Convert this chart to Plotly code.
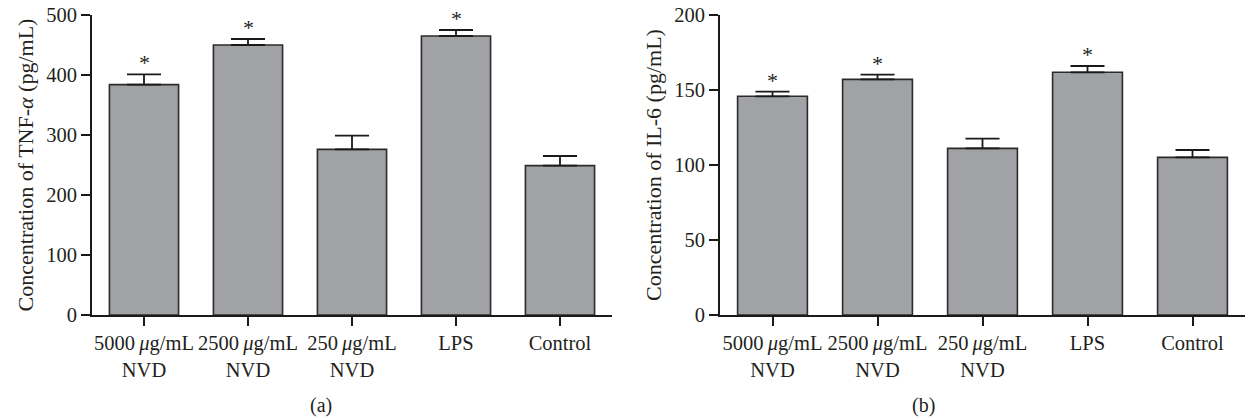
import plotly.graph_objects as go

categories = ["5000\u2009<i>μ</i>g/mL<br>NVD", "2500\u2009<i>μ</i>g/mL<br>NVD", "250\u2009<i>μ</i>g/mL<br>NVD", "LPS", "Control"]
tnf_mean = [384, 450, 276, 465, 249]
tnf_err = [17, 10, 23, 10, 16]
il6_mean = [145.8, 157.1, 111.1, 161.8, 105.1]
il6_err = [3.1, 3.1, 6.5, 4.2, 4.9]
significant = [True, True, False, True, False]

FONT = "Liberation Serif"
TXT = "#231f20"
BAR = "#a1a2a6"
W, H = 1245, 418

fig = go.Figure()
xs = list(range(len(categories)))

for mean, err, xa, ya in [(tnf_mean, tnf_err, "x", "y"), (il6_mean, il6_err, "x2", "y2")]:
    fig.add_trace(go.Bar(
        x=xs, y=mean, xaxis=xa, yaxis=ya, width=0.665,
        marker=dict(color=BAR, line=dict(color="#2b2b2b", width=1.6)),
        error_y=dict(type="data", symmetric=False, array=err, arrayminus=[0] * len(err),
                     color="#1a1a1a", thickness=1.8, width=17),
        showlegend=False, hoverinfo="skip",
    ))
    for i, (m, e, s) in enumerate(zip(mean, err, significant)):
        if s:
            fig.add_annotation(x=i, y=m + e, xref=xa, yref=ya, text="*", showarrow=False,
                               yanchor="bottom", yshift=-3,
                               font=dict(family=FONT, size=22, color=TXT))

common_x = dict(range=[-0.5, 4.5], tickvals=xs, ticktext=categories, showline=True,
                linecolor="#1a1a1a", linewidth=1.6, ticks="outside", ticklen=9, tickwidth=1.6,
                tickcolor="#1a1a1a", showgrid=False, zeroline=False, automargin=False,
                tickfont=dict(family=FONT, size=20.5, color=TXT))
common_y = dict(showline=True, linecolor="#1a1a1a", linewidth=1.6, ticks="outside", ticklen=9,
                tickwidth=1.6, tickcolor="#1a1a1a", showgrid=False, zeroline=False, automargin=False,
                tickfont=dict(family=FONT, size=20.5, color=TXT))

ydom = [1 - 315 / H, 1 - 15 / H]
fig.update_layout(
    width=W, height=H, margin=dict(l=0, r=0, t=0, b=0, autoexpand=False),
    paper_bgcolor="white", plot_bgcolor="white",
    xaxis=dict(domain=[92 / W, 612 / W], anchor="y", **common_x),
    xaxis2=dict(domain=[720 / W, 1.0], anchor="y2", **common_x),
    yaxis=dict(domain=ydom, anchor="x", range=[0, 500], tickvals=[0, 100, 200, 300, 400, 500],
               title=dict(text="Concentration of TNF-<i>α</i> (pg/mL)", standoff=7,
                          font=dict(family=FONT, size=22, color=TXT)), **common_y),
    yaxis2=dict(domain=ydom, anchor="x2", range=[0, 200], tickvals=[0, 50, 100, 150, 200],
                title=dict(text="Concentration of IL-6 (pg/mL)", standoff=7,
                           font=dict(family=FONT, size=22, color=TXT)), **common_y),
)

fig.add_annotation(x=308 / W, y=1 - 405 / H, xref="paper", yref="paper", text="(a)",
                   yanchor="middle", showarrow=False, font=dict(family=FONT, size=20, color=TXT))
fig.add_annotation(x=937 / W, y=1 - 405 / H, xref="paper", yref="paper", text="(b)",
                   yanchor="middle", showarrow=False, font=dict(family=FONT, size=20, color=TXT))

fig.write_html("out.html")
